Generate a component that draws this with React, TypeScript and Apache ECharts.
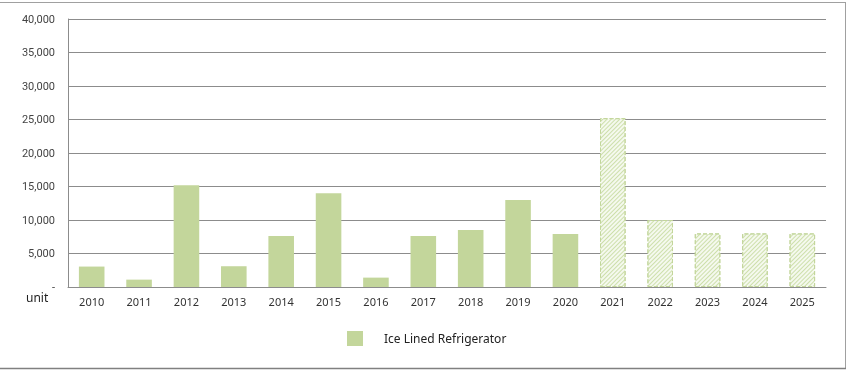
import React, { useEffect, useRef } from "react";
import * as echarts from "echarts";

const years = ["2010", "2011", "2012", "2013", "2014", "2015", "2016", "2017", "2018", "2019", "2020", "2021", "2022", "2023", "2024", "2025"];
const units = [3050, 1100, 15200, 3100, 7600, 14000, 1400, 7600, 8500, 13000, 7900, 25200, 10000, 8000, 8000, 8000];
const forecastFrom = "2021";
const seriesName = "Ice Lined Refrigerator";
const yTicks = { min: 0, max: 40000, interval: 5000 };

export default function App() {
  const ref = useRef<HTMLDivElement>(null);
  useEffect(() => {
    if (!ref.current) return;
    const chart = echarts.init(ref.current, null, { renderer: "svg" });
    const green = "#c3d69b";
    const fIdx = years.indexOf(forecastFrom);
    const data = units.map((v, i) =>
      i >= fIdx
        ? {
            value: v,
            itemStyle: {
              color: "#f5f9ee",
              borderColor: "#c3d69b",
              borderWidth: 1,
              borderType: "dashed",
              decal: {
                symbol: "rect",
                symbolSize: 1,
                rotation: -Math.PI / 4,
                dashArrayX: [1, 0],
                dashArrayY: [1, 2],
                color: "#cddfab",
              },
            },
          }
        : { value: v }
    );
    chart.setOption({
      animation: false,
      grid: { left: 68, right: 24, top: 19, bottom: 83, containLabel: false },
      legend: {
        left: 347,
        top: 331,
        padding: 0,
        icon: "rect",
        itemWidth: 16,
        itemHeight: 15,
        textStyle: { color: "#222", fontSize: 12, fontFamily: "Noto Sans", padding: [0, 0, 0, 16] },
        data: [seriesName],
      },
      xAxis: {
        type: "category",
        data: years,
        axisLine: { show: true, lineStyle: { color: "#8c8c8c", width: 1 } },
        axisTick: { show: false },
        axisLabel: { color: "#333", fontSize: 11, fontFamily: "Noto Sans", margin: 9 },
      },
      yAxis: {
        type: "value",
        min: yTicks.min,
        max: yTicks.max,
        interval: yTicks.interval,
        axisLine: { show: true, lineStyle: { color: "#8c8c8c", width: 1 } },
        axisTick: { show: false },
        splitLine: { show: true, lineStyle: { color: "#8c8c8c", width: 1 } },
        axisLabel: {
          color: "#444",
          fontSize: 11,
          fontFamily: "Roboto",
          margin: 13,
          formatter: (v: number) => (v === 0 ? "-" : v.toLocaleString("en-US")),
        },
      },
      series: [
        {
          name: seriesName,
          type: "bar",
          barWidth: "54%",
          itemStyle: { color: green },
          data,
        },
      ],
      graphic: [
        {
          type: "text",
          left: 26,
          top: 291,
          style: { text: "unit", fontSize: 12, fontFamily: "Noto Sans", fill: "#222" },
        },
        { type: "line", shape: { x1: 0, y1: 2.5, x2: 846, y2: 2.5 }, style: { stroke: "#a0a0a0", lineWidth: 1 } },
        { type: "line", shape: { x1: 845.5, y1: 2.5, x2: 845.5, y2: 368 }, style: { stroke: "#a0a0a0", lineWidth: 1 } },
        { type: "line", shape: { x1: 0, y1: 368.5, x2: 846, y2: 368.5 }, style: { stroke: "#808080", lineWidth: 1.5 } },
      ],
    });
    return () => chart.dispose();
  }, []);
  return <div ref={ref} style={{ position: "fixed", left: 0, top: 0, width: 850, height: 370 }} />;
}
